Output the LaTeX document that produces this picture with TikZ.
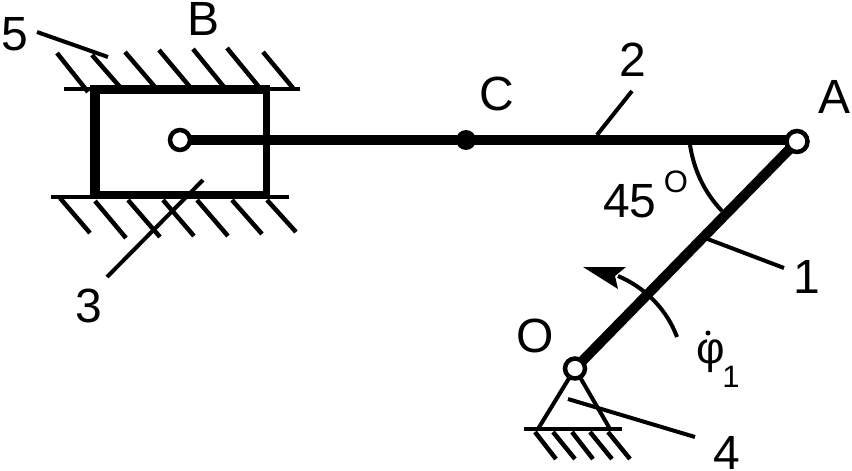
\documentclass[tikz,border=0pt]{standalone}
\usepackage{fontspec}
\setmainfont{Liberation Sans}
\begin{document}
\begin{tikzpicture}[x=1pt,y=-1pt,
  lbl/.style={anchor=base,inner sep=0pt,font=\fontsize{48}{48}\selectfont},
  lblsmall/.style={anchor=base,inner sep=0pt,font=\fontsize{31}{31}\selectfont},
  lblphi/.style={anchor=base,inner sep=0pt,font=\fontsize{44}{44}\selectfont},
  thin line/.style={line width=4.5pt},
  leader/.style={line width=4pt},
  rod/.style={line width=10pt},
  pin/.style={circle,draw=black,fill=white,line width=4.5pt,inner sep=0pt,minimum size=20pt}]
\useasboundingbox (0,0) rectangle (852,471);
\coordinate (B0) at (180,140);
\coordinate (C0) at (466,140);
\coordinate (A0) at (797,141.5);
\coordinate (O0) at (575,368.5);
% slider guides and hatching
\draw[thin line] (64,89) -- (300,89);
\draw[thin line] (51,197) -- (289,197);
\foreach \a/\b/\c/\d in {57/53/88/92,92/55/120/87,125/52/155/87,159/50/190/87,193/49/224/87,227/48/259/87,263/52/293/88,
  60/198/90/233,95/201/126/238,128/200/160/237,163/200/194/236,197/200/228/236,232/200/262/234,267/200/296/232}
  \draw[thin line] (\a,\b) -- (\c,\d);
% slider block
\fill (90,85) rectangle (270,94);
\fill (90,191) rectangle (270,198);
\fill (90,85) rectangle (100,198);
\fill (263,85) rectangle (270,198);
% links
\draw[rod] (B0) -- (A0 |- B0);
\draw[rod] (A0) -- (O0);
% ground support
\draw[line width=4pt] (O0) -- (538,429);
\draw[line width=4pt] (O0) -- (610,429);
\draw[thin line] (524,429) -- (622,429);
\foreach \a/\c in {535/556,553/575,572/593,590/612,608/630}
  \draw[thin line] (\a,432) -- (\c,459);
% joints
\node[pin] (B) at (B0) {};
\node[circle,fill=black,inner sep=0pt,minimum size=20pt] (C) at (C0) {};
\node[pin,minimum size=21pt] (A) at (A0) {};
\node[pin] (O) at (O0) {};
% angle arcs
\draw[line width=4pt] (690,145) .. controls (694,170) and (704,192) .. (722,211);
\draw[line width=4pt] (677,337) .. controls (667,310) and (646,288) .. (618,276);
\fill (583,267) -- (626,267) -- (615,276) -- (618,289) -- cycle;
% leaders
\draw[leader] (37,32) -- (108,57);
\draw[leader] (203,180) -- (107,277);
\draw[leader] (632,91) -- (597,135);
\draw[leader] (705,238) -- (784,268);
\draw[leader] (568,399) -- (695,437);
% labels
\node[lbl] (l5) at (15,50) {5};
\node[lbl] (lB) at (204,35) {B};
\node[lbl] (lC) at (497,110) {C};
\node[lbl] (l2) at (633,76) {2};
\node[lbl] (lA) at (835,113) {A};
\node[lbl] (l45) at (630,217) {45};
\node[lblsmall] (ldeg) at (676,192) {O};
\node[lbl] (l1) at (807,293) {1};
\node[lbl] (lO) at (535,352) {O};
\node[lbl] (l3) at (89,322) {3};
\node[lbl] (l4) at (727,469) {4};
\node[lblphi] (lphi) at (711,363) {φ};
\fill (708,333) circle (2.5);
\node[lblsmall] (lsub) at (731,387) {1};
\end{tikzpicture}
\end{document}
